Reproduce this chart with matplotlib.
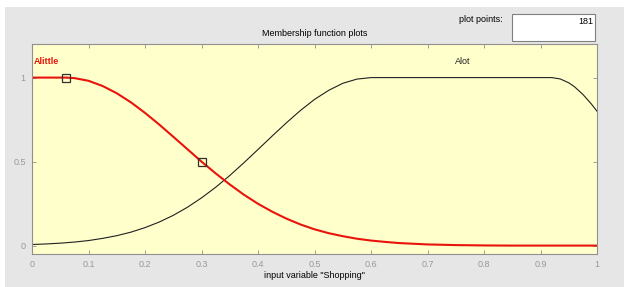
import numpy as np
import matplotlib.pyplot as plt
from matplotlib.patches import Rectangle

# membership curves (input variable "Shopping")
x_little = [0, 0.025, 0.05, 0.06, 0.075, 0.1, 0.125, 0.15, 0.175, 0.2, 0.225,
            0.25, 0.275, 0.3, 0.325, 0.35, 0.375, 0.4, 0.425, 0.45, 0.475,
            0.5, 0.525, 0.55, 0.575, 0.6, 0.625, 0.65, 0.675, 0.7, 0.725,
            0.75, 0.8, 0.85, 0.9, 0.95, 1.0]
y_little = [1, 1, 1, 1, 0.997, 0.981, 0.95, 0.907, 0.853, 0.79, 0.721,
            0.648, 0.574, 0.5, 0.43, 0.364, 0.303, 0.249, 0.202, 0.161, 0.126,
            0.097, 0.074, 0.056, 0.041, 0.03, 0.022, 0.015, 0.011, 0.007, 0.005,
            0.003, 0.001, 0, 0, 0, 0]

x_lot = [0, 0.025, 0.05, 0.075, 0.1, 0.125, 0.15, 0.175, 0.2, 0.225, 0.25,
         0.275, 0.3, 0.325, 0.35, 0.375, 0.4, 0.425, 0.45, 0.475, 0.5,
         0.525, 0.55, 0.575, 0.6, 0.7, 0.8, 0.9, 0.92, 0.935, 0.95, 0.96,
         0.975, 0.99, 1.0]
y_lot = [0.0065, 0.0098, 0.0145, 0.021, 0.03, 0.043, 0.059, 0.08, 0.107, 0.14, 0.18,
         0.228, 0.284, 0.347, 0.417, 0.493, 0.572, 0.652, 0.73, 0.804, 0.87,
         0.924, 0.966, 0.991, 1, 1, 1, 1, 1, 0.992, 0.969, 0.946,
         0.9, 0.843, 0.8]

# selected MF handles
handle_x = [0.06, 0.3]
handle_y = [1, 0.5]

xticks = np.round(np.arange(0, 1.01, 0.1), 1)
xticklabels = ['0', '0.1', '0.2', '0.3', '0.4', '0.5', '0.6', '0.7', '0.8', '0.9', '1']
yticks = [0, 0.5, 1]
yticklabels = ['0', '0.5', '1']

plt.rcParams['font.family'] = ['Liberation Sans', 'DejaVu Sans']

fig = plt.figure(figsize=(6.24, 2.87), dpi=100)
fig.patch.set_facecolor('white')
# gray panel behind everything
fig.add_artist(Rectangle((5 / 624, 0), 1, 1 - 7 / 287, transform=fig.transFigure,
                         facecolor='#e6e6e6', edgecolor='none', zorder=-10))

ax = fig.add_axes([32 / 624, 33 / 287, 565 / 624, 210 / 287])
ax.set_facecolor('#ffffcc')
ax.plot(x_lot, y_lot, color='#202020', lw=0.8)
ax.plot(x_little, y_little, color='#e8140c', lw=1.5)
ax.plot(handle_x, handle_y, 's', ms=6, mfc='none', mec='#303030', mew=0.9)

ax.text(0.004, 1.095, 'Alittle', color='#e8140c', fontsize=6.5, fontweight='bold',
        ha='left', va='center')
ax.text(0.763, 1.095, 'Alot', color='#202020', fontsize=6.5, ha='center', va='center')

ax.set_xlim(0, 1)
ax.set_ylim(-0.05, 1.2)
ax.set_xticks(xticks)
ax.set_xticklabels(xticklabels)
ax.set_yticks(yticks)
ax.set_yticklabels(yticklabels)
ax.tick_params(direction='in', length=3, width=0.6, color='#909090', labelcolor='#999999',
               labelsize=6.5, top=True, right=True, pad=4.5)
for s in ax.spines.values():
    s.set_color('#909090')
    s.set_linewidth(0.8)

ax.set_title('Membership function plots', fontsize=6.5, pad=6)
ax.set_xlabel('input variable "Shopping"', fontsize=6.5, labelpad=1.5)

# plot points box
fig.text(503 / 624, 1 - 20 / 287, 'plot points:', fontsize=6.5, ha='right', va='center')
fig.add_artist(Rectangle((512 / 624, 1 - 41 / 287), 83 / 624, 27 / 287,
                         transform=fig.transFigure, facecolor='white',
                         edgecolor='#808080', lw=0.8, zorder=1))
fig.text(593 / 624, 1 - 22 / 287, '181', fontsize=6.5, ha='right', va='center', zorder=2)

fig.savefig('out.png', dpi=100, facecolor=fig.get_facecolor())
